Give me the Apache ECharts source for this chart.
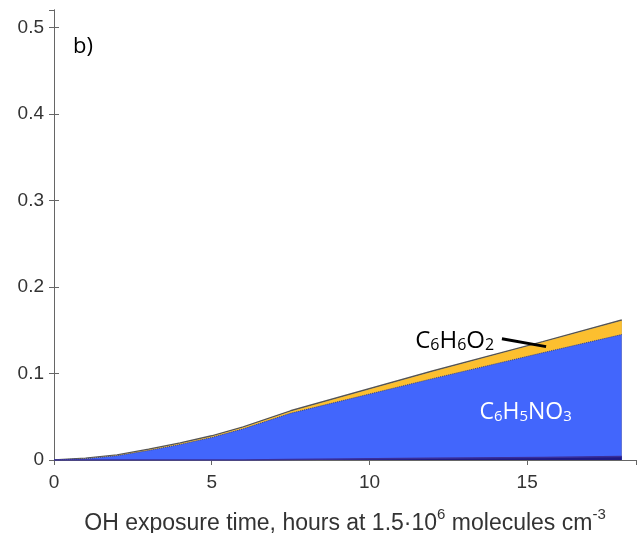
<!DOCTYPE html>
<html>
<head>
<meta charset="utf-8">
<script src="https://cdn.jsdelivr.net/npm/echarts@6/dist/echarts.min.js"></script>
<style>
html, body { margin: 0; padding: 0; background: #fff; }
#main { width: 637px; height: 533px; }
</style>
</head>
<body>
<div id="main"></div>
<script>
// exposure time, hours
var hours = [0, 1, 2, 3, 4, 5, 6, 7.5, 12, 15.5, 18];
// mass fraction of each layer (stacked bottom to top)
var navyPart = [0, 0, 0, 0, 0, 0, 0, 0.0005, 0.002, 0.003, 0.004];
var c6h5no3 = [0, 0.0015, 0.005, 0.011, 0.018, 0.026, 0.036, 0.0535, 0.092, 0.121, 0.141];
var c6h6o2 = [0, 0.0003, 0.0005, 0.0008, 0.001, 0.0012, 0.0015, 0.002, 0.008, 0.012, 0.016];
var minorPart = [0, 0.0003, 0.0004, 0.0005, 0.0006, 0.0007, 0.0008, 0.0008, 0.0008, 0.0008, 0.0008];

// both axes are value axes, so build the stacked tops here
function stackPairs(layers) {
	var out = [];
	for (var i = 0; i < hours.length; i++) {
		var sum = 0;
		for (var j = 0; j < layers.length; j++) {
			sum += layers[j][i];
		}
		out.push([hours[i], sum]);
	}
	return out;
}

var myChart = echarts.init(document.getElementById('main'));
var tickFont = { color: '#333', fontSize: 19, fontFamily: 'Liberation Sans' };
var boxLine = { show: true, lineStyle: { color: '#666', width: 1 } };
var tick = { show: true, inside: true, length: 5, lineStyle: { color: '#666' } };

var option = {
	animation : false,
	grid : { left: 54, right: 1, top: 10, bottom: 73, outerBoundsMode: 'none', containLabel: false },
	xAxis : [ {
		type : 'value', min : 0, max : 18.45, interval : 5,
		axisLine : boxLine,
		axisTick : tick,
		splitLine : { show: false },
		axisLabel : Object.assign({ margin: 13, showMaxLabel: false }, tickFont),
		name : '{a|OH exposure time, hours at 1.5·10}{s|6}{a| molecules cm}{s|-3}',
		nameLocation : 'middle',
		nameGap : 47,
		nameTextStyle : {
			rich : {
				a : { fontSize: 23, color: '#333', fontFamily: 'Liberation Sans', lineHeight: 28, verticalAlign: 'bottom' },
				s : { fontSize: 15, color: '#333', fontFamily: 'Liberation Sans', lineHeight: 14, verticalAlign: 'top' }
			}
		}
	}, {
		type : 'value', position : 'top', min : 0, max : 18.45, interval : 5,
		axisLine : boxLine, axisTick : tick,
		axisLabel : { show: false }, splitLine : { show: false }
	} ],
	yAxis : [ {
		type : 'value', min : 0, max : 0.52, interval : 0.1,
		axisLine : boxLine, axisTick : tick,
		splitLine : { show: false },
		axisLabel : Object.assign({ margin: 10, showMaxLabel: false }, tickFont)
	}, {
		type : 'value', position : 'right', min : 0, max : 0.52, interval : 0.1,
		axisLine : boxLine, axisTick : tick,
		axisLabel : { show: false }, splitLine : { show: false }
	} ],
	// drawn from the top layer down, each one filled to zero over the last
	series : [ {
		name : 'minor', type : 'line', symbol : 'none', z : 2,
		data : stackPairs([navyPart, c6h5no3, c6h6o2, minorPart]),
		lineStyle : { color: '#555', width: 1.5 },
		areaStyle : { color: '#9a9a9a', opacity: 1 }
	}, {
		name : 'C6H6O2', type : 'line', symbol : 'none', z : 3,
		data : stackPairs([navyPart, c6h5no3, c6h6o2]),
		lineStyle : { width: 0 },
		areaStyle : { color: '#fcbf2f', opacity: 1 }
	}, {
		name : 'C6H5NO3', type : 'line', symbol : 'none', z : 4,
		data : stackPairs([navyPart, c6h5no3]),
		lineStyle : { color: '#2c3f8c', width: 1, type: 'dotted' },
		areaStyle : { color: '#4266fc', opacity: 1 }
	}, {
		name : 'other', type : 'line', symbol : 'none', z : 5,
		data : stackPairs([navyPart]),
		lineStyle : { color: '#3a2f9a', width: 1.5 },
		areaStyle : { color: '#1f1a86', opacity: 1 }
	} ]
};
myChart.setOption(option);

// annotations placed in data space
function px(x, y) {
	return myChart.convertToPixel({ xAxisIndex: 0, yAxisIndex: 0 }, [x, y]);
}
var formulaFont = 'Open Sans';
var pB = px(0.6, 0.478);
var pO2 = px(11.45, 0.1377);
var pL0 = px(14.2, 0.140);
var pL1 = px(15.6, 0.131);
var pNO3 = px(14.95, 0.055);
myChart.setOption({
	graphic : [ {
		type : 'text', x : pB[0], y : pB[1], z : 100,
		style : { text: 'b)', fontSize: 22, fontFamily: formulaFont, fill: '#000', verticalAlign: 'middle' }
	}, {
		type : 'text', x : pO2[0], y : pO2[1], z : 100,
		style : {
			text : 'C{s|6}H{s|6}O{s|2}',
			fontSize : 24, fontFamily : formulaFont, fill : '#000', verticalAlign : 'middle',
			rich : { s: { fontSize: 16, fontFamily: formulaFont, fill: '#000', padding: [9, 0, 0, 0] } }
		}
	}, {
		type : 'line', z : 100,
		shape : { x1: pL0[0], y1: pL0[1], x2: pL1[0], y2: pL1[1] },
		style : { stroke: '#000', lineWidth: 3 }
	}, {
		type : 'text', x : pNO3[0], y : pNO3[1], z : 100,
		style : {
			text : 'C{s|6}H{s|5}NO{s|3}',
			fontSize : 23, fontFamily : formulaFont, fill : '#fff', align : 'center', verticalAlign : 'middle',
			rich : { s: { fontSize: 15, fontFamily: formulaFont, fill: '#fff', padding: [9, 0, 0, 0] } }
		}
	} ]
});
</script>
</body>
</html>
